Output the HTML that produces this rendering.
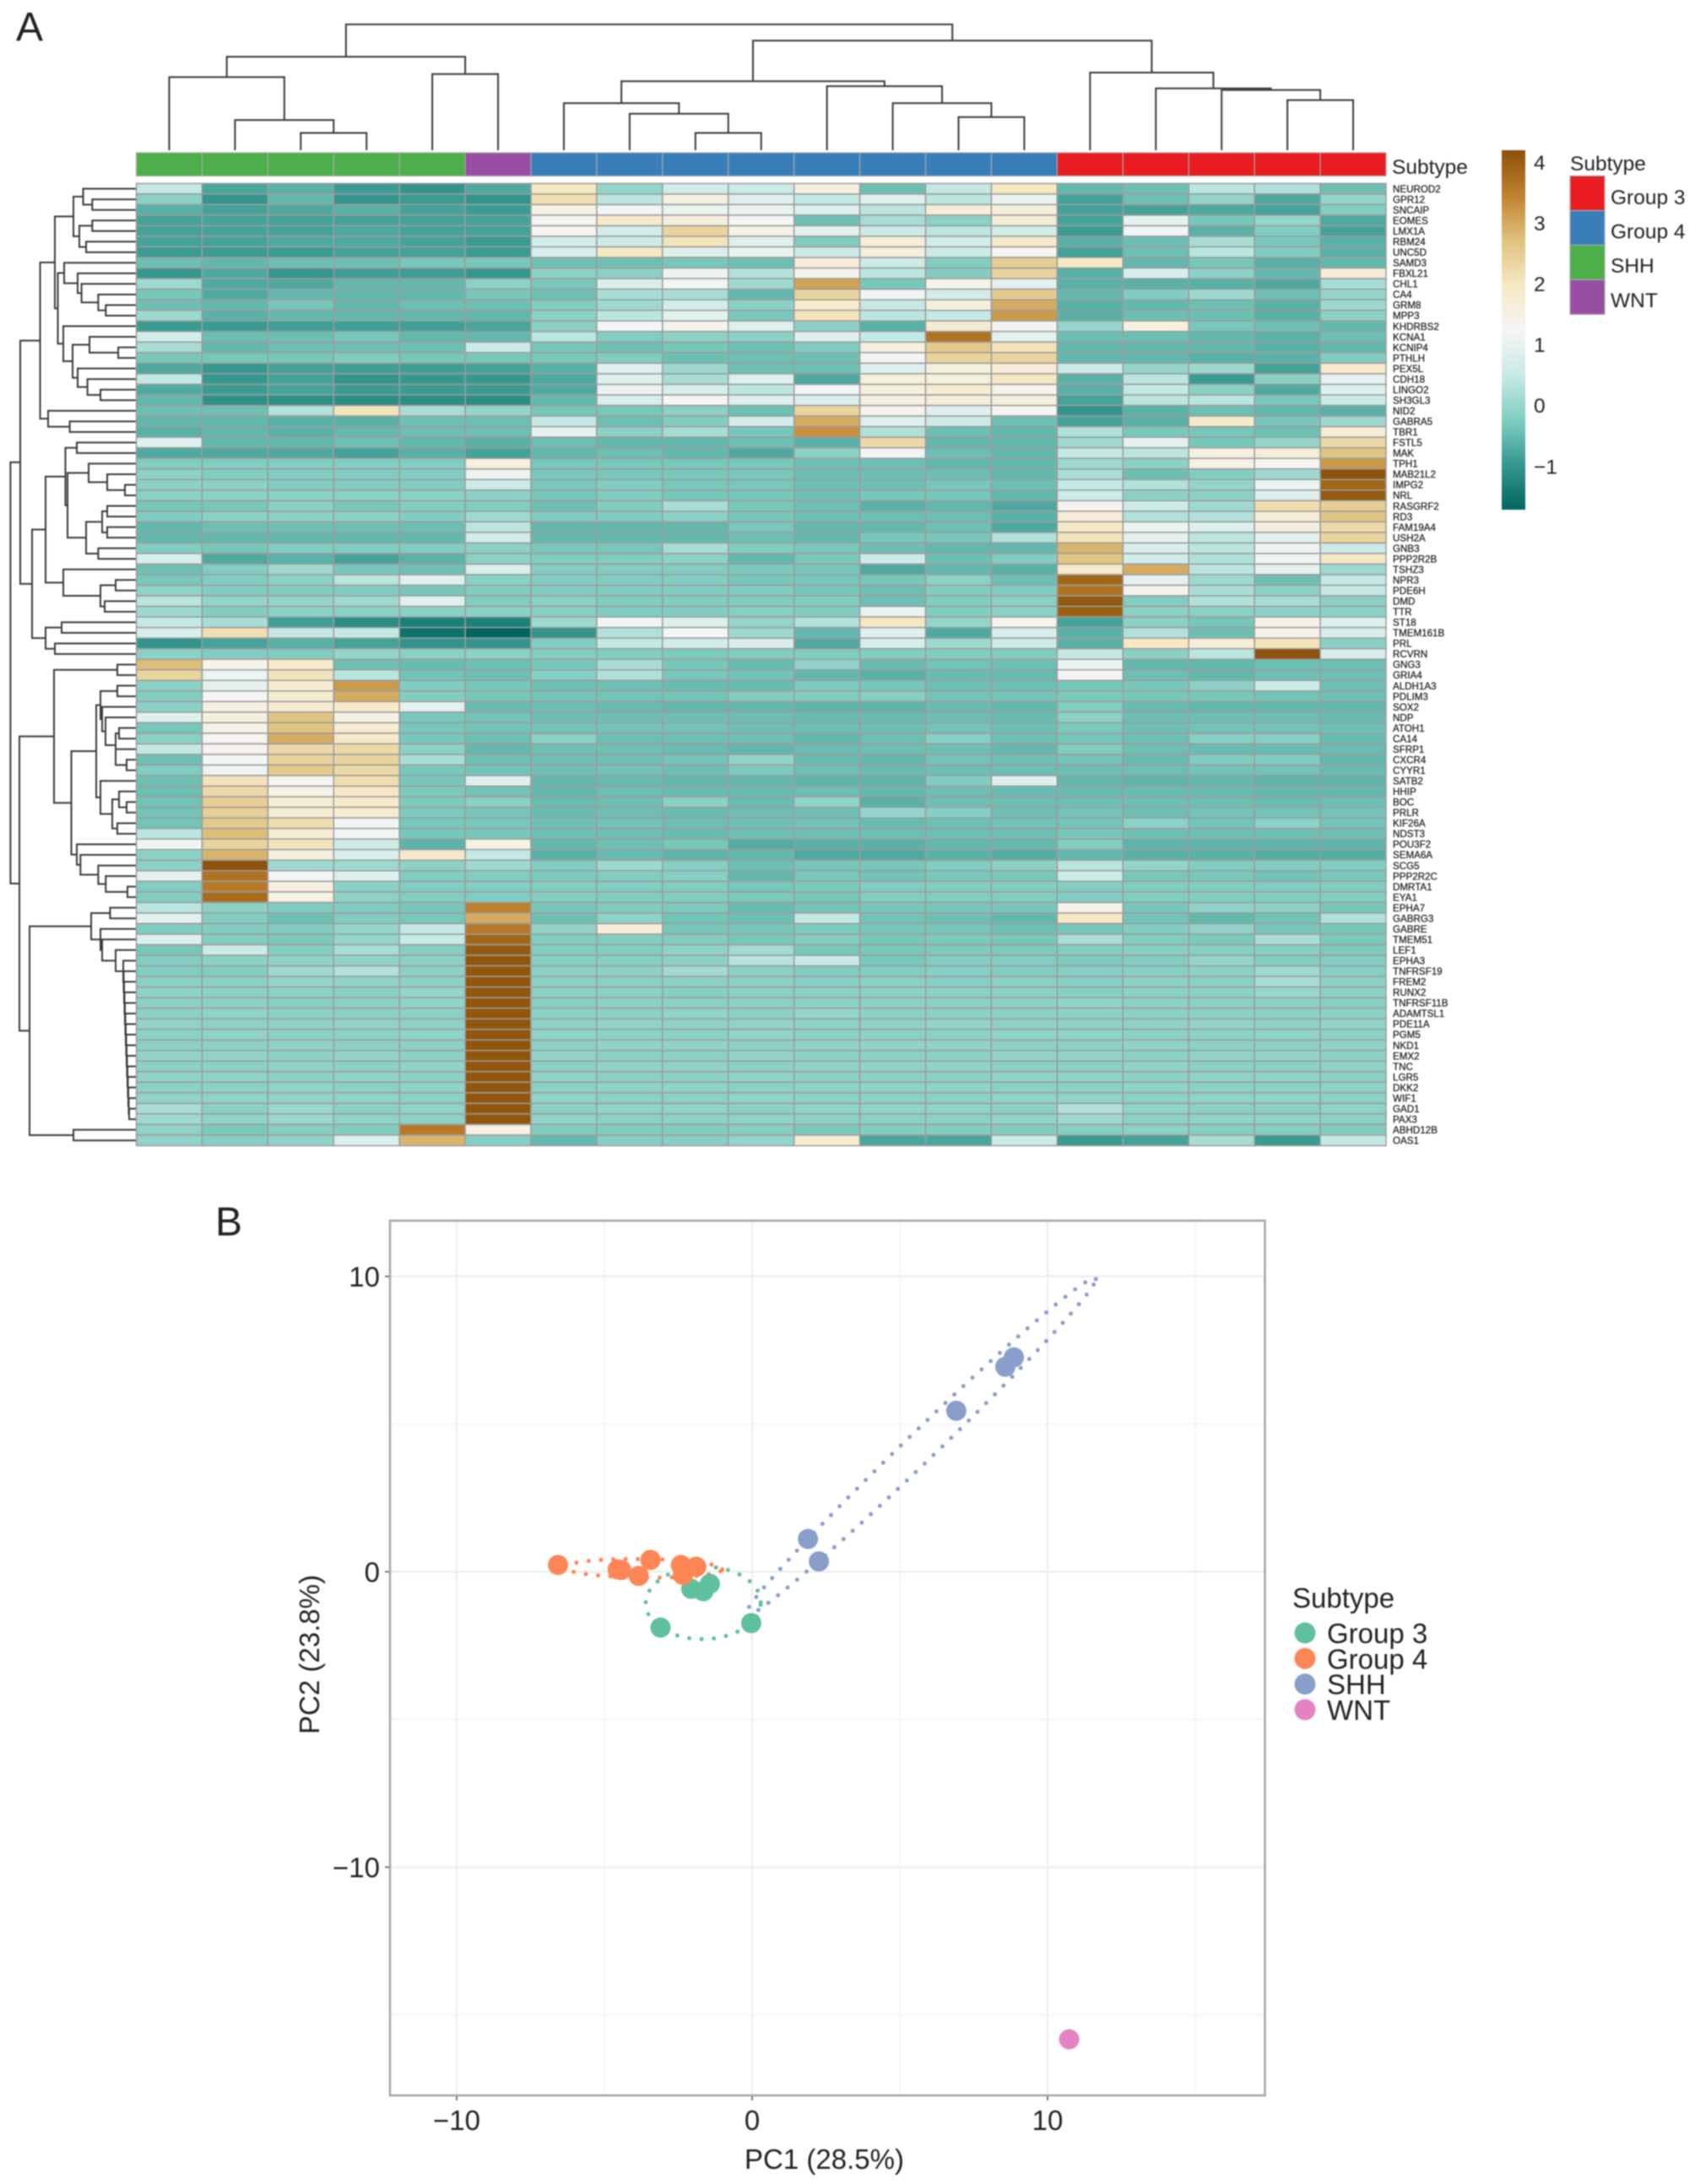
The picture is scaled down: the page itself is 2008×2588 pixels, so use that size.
<!DOCTYPE html>
<html lang="en">
<head>
<meta charset="utf-8">
<title>Medulloblastoma subtype heatmap and PCA</title>
<style>
html,body{margin:0;padding:0;background:#fff}
svg{display:block;filter:blur(.7px)}
text{font-family:"Liberation Sans",sans-serif;fill:#222}
</style>
</head>
<body>
<svg id="fig" xmlns="http://www.w3.org/2000/svg" width="2008" height="2588" viewBox="0 0 2008 2588">
  <rect width="2008" height="2588" fill="#fff"/>
  <text x="19" y="48" font-size="48">A</text>
  <text x="255" y="1464" font-size="48">B</text>
  <g id="colDend"></g>
  <g id="rowDend"></g>
  <g id="annot"></g>
  <text x="1649" y="206" font-size="24.5">Subtype</text>
  <g id="heat"></g>
  <g id="genes"></g>
  <g id="scale"></g>
  <g id="annotLegend"></g>
  <g id="pca"></g>
  <g id="pcaLegend"></g>
</svg>
<script>
const genes = ["NEUROD2","GPR12","SNCAIP","EOMES","LMX1A","RBM24","UNC5D","SAMD3","FBXL21","CHL1","CA4","GRM8","MPP3","KHDRBS2","KCNA1","KCNIP4","PTHLH","PEX5L","CDH18","LINGO2","SH3GL3","NID2","GABRA5","TBR1","FSTL5","MAK","TPH1","MAB21L2","IMPG2","NRL","RASGRF2","RD3","FAM19A4","USH2A","GNB3","PPP2R2B","TSHZ3","NPR3","PDE6H","DMD","TTR","ST18","TMEM161B","PRL","RCVRN","GNG3","GRIA4","ALDH1A3","PDLIM3","SOX2","NDP","ATOH1","CA14","SFRP1","CXCR4","CYYR1","SATB2","HHIP","BOC","PRLR","KIF26A","NDST3","POU3F2","SEMA6A","SCG5","PPP2R2C","DMRTA1","EYA1","EPHA7","GABRG3","GABRE","TMEM51","LEF1","EPHA3","TNFRSF19","FREM2","RUNX2","TNFRSF11B","ADAMTSL1","PDE11A","PGM5","NKD1","EMX2","TNC","LGR5","DKK2","WIF1","GAD1","PAX3","ABHD12B","OAS1"];
const sampleSubtypes = ["SHH","SHH","SHH","SHH","SHH","WNT","Group 4","Group 4","Group 4","Group 4","Group 4","Group 4","Group 4","Group 4","Group 3","Group 3","Group 3","Group 3","Group 3"];
const subtypeNames = ["Group 3","Group 4","SHH","WNT"];
const subtypeBarColors = {"Group 3":"#e91c22","Group 4":"#377eb8","SHH":"#4daf4a","WNT":"#984ea3"};
const subtypePointColors = {"Group 3":"#5fbf9f","Group 4":"#fc8655","SHH":"#8a9ecb","WNT":"#e583c2"};
const scaleStops = ["#01665e","#35978f","#80cdc1","#c7eae5","#f5f5f5","#f6e8c3","#dfc27d","#bf812d","#8c510a"];
const scaleMin = -1.69;
const scaleMax = 4.22;
const scaleTicks = [4,3,2,1,0,-1];
const expression = [
[.5,-.75,-.6,-.9,-1,-.7,2,0,.7,.6,1.6,-.4,.5,2,-.5,-.4,.4,.3,-.4],
[-.1,-1,-.5,-1,-.9,-1,2.2,.4,1.6,.9,.5,.9,.4,1.1,-.8,-.4,0,-.7,0],
[-.6,-.8,-.7,-.6,-.8,-.9,1.5,1.2,1.1,1.1,.9,.4,1.7,1.6,-.8,-.8,-.7,-.8,-.2],
[-.8,-.8,-.8,-.8,-.8,-.8,1.3,1.9,1.6,1.25,-.4,.2,-.1,1.7,-.8,1,-.3,0,-.7],
[-.8,-.8,-.8,-.7,-.8,-.8,1.4,.7,2.4,1.5,1,.6,.4,.7,-.9,1.2,-.6,-.2,-.8],
[-.8,-.8,-.7,-.7,-.8,-.9,.7,.6,2.1,.9,-.2,1.7,.7,1.9,-.6,-.4,.2,-.3,-.6],
[-.9,-.9,-.9,-.8,-.8,-.9,.8,2,.9,1.1,.6,1.6,.6,1.3,-.8,-.4,.4,-.2,-.6],
[-.4,-.5,-.4,-.4,-.3,-.3,-.4,-.4,-.3,-.4,1.7,.6,-.2,2.5,2,-.5,-.3,-.6,-.5],
[-.95,-.7,-.95,-.85,-.85,-.95,-.1,-.1,1.1,.3,1.4,.4,-.2,2.4,-.6,.8,-.1,-.5,1.7],
[.1,-.7,-.7,-.5,-.5,-.1,-.3,.8,1.2,.1,3.1,-.3,1.4,1,-.6,-.6,-.6,-.7,.2],
[-.3,-.7,-.5,-.5,-.5,-.3,-.4,.2,.2,-.5,2.4,1.2,.7,2.6,-.5,-.2,.1,-.4,0],
[-.4,-.5,-.3,-.5,-.4,-.4,-.2,.1,.7,-.1,1.9,.5,1.6,3,-.6,-.5,-.4,-.6,.1],
[.1,-.6,-.5,-.5,-.5,-.5,-.1,.4,1,-.3,2.1,.4,.5,3.2,-.6,-.4,-.4,-.6,-.1],
[-.9,-.9,-.85,-.85,-.85,-.75,-.1,1.3,1.4,.9,-.1,-.6,1.8,1.2,0,1.6,-.3,-.4,-.5],
[.7,-.4,-.4,-.3,-.5,-.5,.4,-.2,-.1,-.1,.9,.5,3.7,1,-.4,-.4,-.5,-.6,-.4],
[.2,-.5,-.4,-.4,-.4,.6,-.3,-.4,-.3,-.4,-.2,1.6,2.6,2.1,-.5,-.5,-.5,-.6,-.5],
[-.3,-.3,-.3,-.2,-.3,-.3,-.3,-.2,-.4,-.4,-.4,1.3,2.4,2.4,-.5,-.5,-.6,-.6,-.2],
[-.7,-.95,-.8,-.85,-.85,-.8,-.6,.9,.1,-.4,-.4,.9,1.6,1.7,.6,0,.1,-.8,1.9],
[.5,-.95,-.8,-1,-.95,-.95,-.7,.9,.2,.9,-.7,1.6,1.6,2,-.6,.4,-.9,-.1,1],
[-.7,-.9,-.8,-.9,-.9,-.9,-.7,1.1,.8,.4,1.2,1.6,1.8,1.4,-.6,.5,-.1,-.7,.9],
[-.5,-1.05,-1.05,-1.1,-1.1,-1.1,-.5,.8,1.3,.9,.8,1.6,1.7,1.6,-.8,.4,.4,-.3,.6],
[-.4,-.4,.3,2.1,.2,0,-.3,-.3,-.1,-.4,2.4,1.4,.9,1.3,-1,-.6,-.4,-.5,-.6],
[-.5,-.5,-.6,-.6,-.4,-.4,.5,-.4,-.2,.7,3,.9,.6,-.4,-.8,-.6,1.9,-.3,.1],
[-.6,-.5,-.6,-.5,-.4,-.4,1,-.1,.2,-.3,3.3,.3,-.4,-.5,.3,-.3,-.3,-.4,1.7],
[.9,-.5,-.5,-.4,-.5,-.6,-.4,-.5,-.5,-.4,-.6,2.3,-.5,-.5,.1,1,-.3,0,2.3],
[-.7,-.7,-.7,-.8,-.6,-.8,-.5,-.4,-.5,-.7,-.1,1.2,-.4,-.5,.5,.4,1.6,1.7,2.7],
[-.2,-.2,-.2,-.2,-.2,1.6,-.3,-.3,-.3,-.3,-.4,-.4,-.5,-.5,.1,-.1,1.5,1.3,3.2],
[-.1,-.2,-.2,-.2,-.2,1.1,-.3,-.3,-.3,-.3,-.4,-.4,-.4,-.5,.2,-.4,-.2,.1,4.2],
[-.1,-.1,-.2,-.2,-.2,.6,-.3,-.2,-.3,-.3,-.4,-.4,-.3,-.4,.5,.3,0,1.1,3.9],
[-.1,-.1,-.1,-.1,-.1,-.1,-.3,-.2,-.3,-.3,-.4,-.3,-.3,-.5,.6,-.1,-.1,.9,4.1],
[-.3,-.3,-.1,-.3,-.2,-.2,-.4,-.2,.2,-.3,-.4,-.6,-.5,-.7,1.4,.6,.1,2.2,2.5],
[-.2,-.1,-.1,-.1,-.2,.1,-.2,-.2,-.1,-.3,-.4,-.4,-.4,-.6,1.7,.3,.3,1.7,2.7],
[-.5,-.4,-.4,-.4,-.4,.4,-.5,-.5,-.5,-.3,-.5,-.5,-.4,-.7,1.9,1.1,.9,1.6,2.3],
[-.5,-.5,-.5,-.5,-.5,.7,-.5,-.5,-.5,-.4,-.5,-.3,-.3,.3,2.1,1,.4,1,2.4],
[-.2,-.3,-.2,-.2,-.2,-.1,-.3,-.3,.2,-.2,-.3,-.4,-.5,-.5,2.9,.8,.4,1.2,.6],
[.8,-.7,-.6,-.8,-.6,-.1,-.2,-.2,-.1,-.5,-.3,.6,-.4,-.2,2.7,.7,.3,1.2,2],
[-.4,-.2,.1,-.3,-.4,.8,-.2,-.2,-.2,-.25,-.3,-.7,-.5,-.6,1.9,3,.4,1,.1],
[-.3,-.2,-.1,.4,.9,-.1,-.2,-.2,-.2,-.3,-.3,-.3,-.1,-.4,3.9,1,.1,-.4,.5],
[-.05,-.2,-.2,-.2,-.3,-.2,-.2,-.2,-.2,-.2,-.3,-.4,-.2,-.2,3.7,1.4,.2,-.1,.5],
[.4,0,0,.1,.95,-.2,-.1,-.2,-.2,-.2,-.2,-.4,-.2,-.1,4.1,-.2,.3,.2,-.1],
[.1,-.2,-.1,-.1,-.1,-.1,-.15,-.2,-.2,-.15,-.2,1.1,-.2,-.1,4,-.1,-.1,-.1,-.1],
[.5,.2,-.85,-1.1,-1.3,-1.3,.1,1.2,.9,0,.3,2,0,1.4,-.8,-.1,-.3,1.5,.9],
[.8,2.2,.5,.5,-1.5,-1.7,-1,.3,1.25,.1,-.5,.9,-.7,.8,-.6,.3,-.4,1.4,.8],
[-1,-.8,-.6,-.8,-1,-1,-.2,.5,.7,.8,-.7,.8,.1,.6,-.6,2,1.7,2.1,-.1],
[-.1,-.2,-.2,0,-.1,-.1,-.2,-.2,-.25,-.2,-.2,-.2,-.2,-.2,.5,-.1,.4,4.2,.8],
[2.8,1.4,1.9,-.4,-.45,-.4,-.3,.2,-.3,-.45,-.05,-.45,-.35,-.4,1.1,-.5,-.5,-.4,-.4],
[2.4,1.1,2.1,.4,-.35,-.4,-.15,.3,-.3,-.35,-.5,-.6,-.45,-.45,1.3,-.4,-.5,-.4,-.4],
[-.1,1,1.8,3.2,-.2,-.3,-.4,-.4,-.45,-.45,-.25,-.3,-.4,-.4,-.3,-.3,-.1,.6,-.4],
[-.2,1.3,1.8,3,-.2,-.3,-.35,-.35,-.35,-.2,-.2,-.15,-.35,-.35,-.25,-.3,-.3,-.35,-.4],
[-.1,1.55,1.8,1.9,1,-.45,-.4,-.45,-.5,-.5,-.55,-.55,-.45,-.5,-.2,-.45,-.5,-.5,-.5],
[.9,1.6,2.7,1.5,-.3,-.35,-.4,-.4,-.4,-.4,-.45,-.45,-.4,-.45,-.1,-.4,-.4,-.4,-.45],
[-.3,1.5,2.7,1.8,-.3,-.35,-.35,-.35,-.35,-.4,-.4,-.4,-.35,-.4,-.25,-.4,-.35,-.35,-.4],
[-.1,1.3,3,1.9,-.3,-.4,-.1,-.4,-.4,-.4,-.5,-.4,-.15,-.4,-.3,-.4,-.15,-.15,-.45],
[.5,1.4,2.3,2.3,-.1,-.5,-.4,-.4,-.45,-.5,-.45,-.4,-.4,-.5,-.2,-.4,-.45,-.45,-.45],
[-.4,1.25,2.4,2.4,.2,-.4,-.4,-.4,-.35,-.05,-.45,-.5,-.35,-.4,-.35,-.45,-.2,-.2,-.5],
[-.2,1.1,2.6,2.3,-.3,-.35,-.4,-.35,-.4,-.25,-.4,-.45,-.4,-.4,-.4,-.4,-.35,-.35,-.45],
[-.4,2.1,1.3,2.2,-.3,.9,-.5,-.45,-.5,-.5,-.55,-.55,-.2,.9,-.5,-.55,-.5,-.55,-.55],
[-.4,2.3,1.45,2,-.25,-.35,-.5,-.4,-.45,-.45,-.4,-.5,-.4,-.45,-.45,-.45,-.45,-.5,-.5],
[-.35,2.5,1.8,1.9,-.25,-.1,-.45,-.4,-.1,-.45,-.05,-.6,-.4,-.4,-.4,-.4,-.4,-.45,-.4],
[-.35,2.5,1.8,1.8,-.25,-.3,-.45,-.4,-.45,-.4,-.4,0,-.15,-.4,-.35,-.4,-.35,-.35,-.35],
[-.35,2.6,2.2,1.2,-.3,-.3,-.4,-.35,-.4,-.4,-.35,-.45,-.4,-.35,-.35,-.1,-.35,-.1,-.35],
[.4,2.8,1.8,1.2,-.3,-.3,-.4,-.4,-.45,-.4,-.4,-.4,-.4,-.4,-.3,-.4,-.4,-.4,-.4],
[1.2,2.4,2.1,.6,-.55,1.5,-.5,-.4,-.3,-.65,-.6,-.6,-.5,-.5,-.2,-.55,-.55,-.55,-.55],
[-.1,2.9,1.6,.8,1.9,.5,-.6,-.45,-.55,-.5,-.7,-.7,-.6,-.65,-.5,-.6,-.6,-.65,-.65],
[-.1,4.2,.1,.1,-.1,.1,-.2,.1,-.15,-.4,-.3,-.3,-.2,-.1,.4,0,-.2,-.2,-.2],
[1,3.7,1.2,.9,-.2,-.2,-.25,-.2,-.15,-.5,-.3,-.35,-.3,-.3,.6,-.3,-.3,-.35,-.3],
[-.2,3.6,1.55,-.1,-.2,-.2,-.2,-.2,-.2,-.3,-.25,-.2,-.2,-.2,-.2,-.2,-.2,-.2,-.2],
[-.2,3.8,1.5,-.1,-.2,-.2,-.2,-.2,-.2,-.25,-.3,-.2,-.2,-.2,-.2,-.2,-.2,-.2,-.2],
[.4,-.1,-.2,-.2,-.3,3.5,-.3,-.2,-.25,-.45,-.35,-.3,-.3,-.3,1.4,-.3,-.05,-.1,-.3],
[1,-.2,-.4,-.2,-.3,3,-.4,-.05,-.35,-.4,.5,-.35,-.4,-.5,2,-.35,-.5,-.35,.3],
[-.2,-.2,-.2,0,.5,3.6,-.05,1.7,-.3,-.3,-.25,-.3,-.3,-.4,-.3,-.2,-.05,-.3,-.3],
[.9,-.2,-.25,0,.55,3.9,-.2,-.2,-.2,-.3,-.2,-.3,-.25,-.3,.2,-.2,-.25,.2,-.25],
[-.3,.6,-.2,.2,-.15,4.1,-.2,-.2,-.05,.15,-.3,-.3,-.25,-.25,-.2,-.15,-.15,-.15,-.25],
[-.2,-.1,-.05,-.05,-.1,4.15,-.15,-.15,-.1,.35,.55,-.3,-.2,-.2,-.25,-.2,0,-.2,-.2],
[-.2,-.2,.1,.3,-.1,4.15,-.1,-.1,.15,-.1,-.2,-.2,-.15,-.2,-.15,-.15,-.1,.1,-.15],
[-.1,-.1,0,-.05,-.1,4.15,-.1,-.1,-.1,-.1,-.15,-.1,-.15,-.1,-.15,-.1,-.1,.2,-.1],
[-.05,-.1,-.1,-.1,0,4.15,-.1,-.1,-.15,-.1,-.1,-.1,-.1,-.1,-.15,-.1,-.1,.05,-.1],
[-.1,-.1,-.15,-.1,-.05,4.15,-.15,-.1,-.1,-.1,-.1,-.1,-.1,-.1,-.05,-.1,-.1,-.1,-.15],
[-.1,-.05,-.1,-.1,-.1,4.15,-.1,-.1,-.05,-.1,0,-.1,-.1,-.1,-.1,-.1,-.1,-.1,-.1],
[-.05,-.1,-.1,-.05,-.1,4.15,-.1,-.05,-.1,-.05,-.1,-.1,-.05,-.1,-.1,-.1,-.05,-.1,-.05],
[-.1,-.05,-.1,-.1,-.05,4.15,-.05,-.1,-.1,-.05,-.1,-.1,-.1,-.05,-.05,-.1,-.1,-.05,-.1],
[-.1,-.1,-.05,-.1,-.1,4.15,-.1,-.05,-.05,-.1,-.05,-.05,-.05,-.1,-.1,-.05,-.1,-.1,-.05],
[-.05,-.05,-.1,-.05,-.1,4.15,-.05,-.1,-.1,-.05,-.1,-.1,-.1,-.05,-.05,-.1,-.05,-.05,-.1],
[-.1,-.1,-.05,-.1,-.05,4.15,-.1,-.05,-.05,-.1,-.05,-.05,-.05,-.1,-.1,-.05,-.1,-.1,-.05],
[-.05,-.05,-.1,-.05,-.1,4.15,-.05,-.1,-.1,-.05,-.1,-.1,-.1,-.05,-.05,-.1,-.05,-.05,-.1],
[-.1,-.1,-.05,-.1,-.05,4.15,-.1,-.05,-.05,-.1,-.05,-.05,-.05,-.1,-.1,-.05,-.1,-.1,-.05],
[-.05,-.05,-.05,-.05,-.1,4.15,-.05,-.1,-.1,-.05,-.1,-.1,-.1,-.05,-.05,-.1,-.05,-.05,-.1],
[.2,-.1,.05,-.1,-.05,4.15,-.1,-.05,-.05,-.1,-.05,-.05,-.05,-.1,.3,-.05,-.1,-.1,-.05],
[.1,-.05,.05,-.05,-.1,4.15,-.05,-.1,-.1,-.05,-.1,-.1,-.1,-.05,.1,-.1,-.05,-.05,-.1],
[-.05,-.25,-.15,-.2,3.6,1.5,-.2,-.2,-.2,-.15,-.25,-.2,-.2,-.2,-.15,-.1,-.15,-.15,-.2],
[-.05,-.15,-.05,.9,2.9,-.15,-.5,-.15,-.15,0,1.8,-.75,-.75,.6,-.9,-.8,.2,-.9,.5]
];
// Dendrograms: [mergeHeight, childA, childB]; integer leaves are 1-based column or row numbers.
const columnTree = [149.1,
  [110.7,[86.6,1,[35.7,2,[20.5,3,4]]],[90.2,5,6]],
  [129.9,
    [81.7,[55.8,7,[43.3,8,[20.5,9,10]]],[75.9,11,[55.8,12,[39.3,13,14]]]],
    [92,15,[73.2,16,[71.4,17,[59.4,18,19]]]]]];
const rowTreeTopSeven = [74,[62.5,1,[51.7,2,3]],[67,[51.7,4,5],[59,6,7]]];
const rowTreeEightToTwentyOne = [92.5,[85,8,[69,9,[64.4,10,[44.6,11,[35.7,12,13]]]]],[86,14,[75,[55,15,[21,16,17]],[69,18,[57.4,19,[42,20,21]]]]]];
const rowTreeUpper = [113.5,[96,rowTreeTopSeven,rowTreeEightToTwentyOne],[104,22,[78.4,23,24]]];
const rowTreeMiddle = [123,[107,[83.5,[70,25,26],[81,[56,27,[34,28,[13,29,30]]],[59,[40,[34,31,32],[34,33,34]],[44.6,35,36]]]],[86,37,[42,[24,38,39],[37,40,41]]]],[107,[88,42,43],[96,44,45]]];
const rowTreeShh = [97,[22,46,47],[76.5,[47,[42,[22,48,49],[40,50,[36,51,[24,[20,52,53],[24,54,[11,55,56]]]]]],[42,57,[28,[20,58,[11,59,60]],[22,61,62]]]],[70,63,[65.7,64,[44.6,65,[35.7,66,[10,67,68]]]]]]];
const rowTreeLadder = [15,74,[14.5,75,[14,76,[13.5,77,[13,78,[12.5,79,[12,80,[11.5,81,[11,82,[10.5,83,[10,84,[9.5,85,[9,86,[8.5,87,[8,88,89]]]]]]]]]]]]]]];
const rowTreeWnt = [126,[53,[30.6,69,70],[42,71,[40,72,[24,73,rowTreeLadder]]]],[74,90,91]];
const rowTree = [148.6,[137,rowTreeUpper,rowTreeMiddle],[138,rowTreeShh,rowTreeWnt]];
// PCA sample scores
const pcaGroup3X = [-0.03,-3.1,-2.06,-1.65,-1.43];
const pcaGroup3Y = [-1.74,-1.89,-0.58,-0.66,-0.41];
const pcaGroup4X = [-6.57,-4.43,-4.55,-3.84,-3.44,-2.41,-2.34,-1.89];
const pcaGroup4Y = [0.23,0.06,0.08,-0.14,0.4,0.23,-0.11,0.17];
const pcaShhX = [1.89,2.26,6.91,8.57,8.86];
const pcaShhY = [1.11,0.35,5.45,6.94,7.26];
const pcaWntX = [10.73];
const pcaWntY = [-15.83];
const pcaMajorTicks = [-10,0,10];
const pcaMinorTicks = [-15,-5,5,15];

const NS = "http://www.w3.org/2000/svg";
function mk(parent, tag, attrs, txt){
  const el = document.createElementNS(NS, tag);
  for (const k in attrs) el.setAttribute(k, attrs[k]);
  if (txt !== undefined) el.textContent = txt;
  parent.appendChild(el);
  return el;
}
const $ = id => document.getElementById(id);

/* ---------- heatmap axes ---------- */
const HX0 = 161.5, HX1 = 1642, HY0 = 217.4, HY1 = 1357.6;
const colW = (HX1 - HX0) / sampleSubtypes.length;
const rowH = (HY1 - HY0) / genes.length;
const colX = i => HX0 + i * colW;
const rowY = i => HY0 + i * rowH;
function heatColor(v){
  const t = Math.max(0, Math.min(1, (v - scaleMin) / (scaleMax - scaleMin))) * (scaleStops.length - 1);
  const i = Math.min(scaleStops.length - 2, Math.floor(t)), f = t - i;
  const rgb = s => [1,3,5].map(p => parseInt(s.substr(p,2),16));
  const a = rgb(scaleStops[i]), b = rgb(scaleStops[i+1]);
  return "rgb(" + a.map((c,k) => Math.round(c + (b[k]-c)*f)).join(",") + ")";
}
expression.forEach((row, r) => {
  row.forEach((v, c) => {
    const cell = mk($("heat"), "rect", {x:colX(c), y:rowY(r), width:colW, height:rowH, fill:heatColor(v), stroke:"#9c9c9c", "stroke-width":1.5});
    
    
  });
});
genes.forEach((g, r) => {
  const t = mk($("genes"), "text", {x:1650, y:rowY(r)+rowH/2+4.2, "font-size":11.6, fill:"#222", stroke:"#222", "stroke-width":.25}, g);
  
  
});
sampleSubtypes.forEach((s, c) => {
  const b = mk($("annot"), "rect", {x:colX(c), y:181, width:colW, height:27.5, fill:subtypeBarColors[s], stroke:"#a8a8a8", "stroke-width":1.2});
  
  
});

/* ---------- dendrograms ---------- */
function drawTree(node, group, leafPos, pt){
  if (typeof node === "number") return {pos:leafPos(node-1), h:0};
  const a = drawTree(node[1], group, leafPos, pt);
  const b = drawTree(node[2], group, leafPos, pt);
  const h = node[0];
  const pts = [pt(a.pos,a.h), pt(a.pos,h), pt(b.pos,h), pt(b.pos,b.h)];
  const p = mk(group, "polyline", {points:pts.map(q=>q.join(",")).join(" "), fill:"none", stroke:"#3a3a3a", "stroke-width":2});
  
  
  return {pos:(a.pos+b.pos)/2, h};
}
drawTree(columnTree, $("colDend"), i => colX(i)+colW/2, (pos,h) => [pos, 178-h]);
drawTree(rowTree, $("rowDend"), i => rowY(i)+rowH/2, (pos,h) => [161-h, pos]);

/* ---------- colour scale legend ---------- */
const CY0 = 178, CY1 = 604;
const scaleY = v => CY0 + (scaleMax - v) / (scaleMax - scaleMin) * (CY1 - CY0);
const defs = mk($("scale"), "defs", {});
const grad = mk(defs, "linearGradient", {id:"scaleGrad", x1:0, y1:1, x2:0, y2:0});
scaleStops.forEach((c, i) => mk(grad, "stop", {offset:i/(scaleStops.length-1), "stop-color":c}));
const sb = mk($("scale"), "rect", {x:1779, y:CY0, width:28, height:CY1-CY0, fill:"url(#scaleGrad)"});


scaleTicks.forEach(v => {
  const t = mk($("scale"), "text", {x:1817, y:scaleY(v)+7, "font-size":24.5}, String(v).replace("-", "\u2212"));
  
  
});

/* ---------- annotation legend ---------- */
const lt = mk($("annotLegend"), "text", {x:1860, y:202, "font-size":24.5}, "Subtype");


subtypeNames.forEach((n, i) => {
  const r = mk($("annotLegend"), "rect", {x:1860, y:208.5+i*41, width:41, height:41, fill:subtypeBarColors[n], stroke:"#a8a8a8", "stroke-width":1.2});
  
  
  const t = mk($("annotLegend"), "text", {x:1908, y:242+i*40.6, "font-size":24.5}, n);
  
  
});

/* ---------- PCA ---------- */
const PX0 = 462, PX1 = 1498.5, PY0 = 1446.5, PY1 = 2483;
const xScale = v => 891 + v * 35;
const yScale = v => 1862.5 - v * 35;
const pca = $("pca");
pcaMinorTicks.forEach(v => {
  if (xScale(v) > PX0 && xScale(v) < PX1) {
    const gx = mk(pca, "line", {x1:xScale(v), x2:xScale(v), y1:PY0, y2:PY1, stroke:"#f3f3f3", "stroke-width":1.6});
    
    
  }
  if (yScale(v) > PY0 && yScale(v) < PY1) {
    const gy = mk(pca, "line", {y1:yScale(v), y2:yScale(v), x1:PX0, x2:PX1, stroke:"#f3f3f3", "stroke-width":1.6});
    
    
  }
});
pcaMajorTicks.forEach(v => {
  const gx = mk(pca, "line", {x1:xScale(v), x2:xScale(v), y1:PY0, y2:PY1, stroke:"#ededed", "stroke-width":2.2});
  
  
  const gy = mk(pca, "line", {y1:yScale(v), y2:yScale(v), x1:PX0, x2:PX1, stroke:"#ededed", "stroke-width":2.2});
  
  
  const tx = mk(pca, "line", {x1:xScale(v), x2:xScale(v), y1:PY1, y2:PY1+6, stroke:"#777", "stroke-width":2});
  
  
  const ty = mk(pca, "line", {y1:yScale(v), y2:yScale(v), x1:PX0-6, x2:PX0, stroke:"#777", "stroke-width":2});
  
  
  const lx = mk(pca, "text", {x:xScale(v), y:2524, "font-size":33, "text-anchor":"middle"}, String(v).replace("-", "\u2212"));
  
  
  const ly = mk(pca, "text", {x:450, y:yScale(v)+12, "font-size":33, "text-anchor":"end"}, String(v).replace("-", "\u2212"));
  
  
});
const border = mk(pca, "rect", {x:PX0, y:PY0, width:PX1-PX0, height:PY1-PY0, fill:"none", stroke:"#a8a8a8", "stroke-width":2.6});


const xTitle = mk(pca, "text", {x:976.5, y:2570, "font-size":33, "text-anchor":"middle"}, "PC1 (28.5%)");


const yTitle = mk(pca, "text", {x:0, y:0, "font-size":33, "text-anchor":"middle", transform:"translate(378 1960.5) rotate(-90)"}, "PC2 (23.8%)");



// Ellipse computed from the covariance of each group's scores.
const ELLIPSE_SCALE = 1.75;
function ellipsePoints(xs, ys){
  const n = xs.length;
  const mx = xs.reduce((a,b)=>a+b,0)/n, my = ys.reduce((a,b)=>a+b,0)/n;
  let sxx=0, syy=0, sxy=0;
  xs.forEach((x,i)=>{ sxx+=(x-mx)*(x-mx); syy+=(ys[i]-my)*(ys[i]-my); sxy+=(x-mx)*(ys[i]-my); });
  sxx/=n-1; syy/=n-1; sxy/=n-1;
  const l11 = Math.sqrt(sxx), l21 = sxy/l11, l22 = Math.sqrt(Math.max(syy-l21*l21,0));
  const out = [];
  for (let k=0;k<=240;k++){
    const a = k/240*2*Math.PI, u = Math.cos(a)*ELLIPSE_SCALE, w = Math.sin(a)*ELLIPSE_SCALE;
    out.push([xScale(mx+l11*u), yScale(my+l21*u+l22*w)]);
  }
  return out;
}
const pointSets = [
  {name:"Group 3", xs:pcaGroup3X, ys:pcaGroup3Y},
  {name:"Group 4", xs:pcaGroup4X, ys:pcaGroup4Y},
  {name:"SHH", xs:pcaShhX, ys:pcaShhY},
  {name:"WNT", xs:pcaWntX, ys:pcaWntY}
];
pointSets.forEach(s => {
  if (s.xs.length < 3) return;
  const e = mk(pca, "polyline", {points:ellipsePoints(s.xs,s.ys).map(q=>q.map(v=>v.toFixed(1)).join(",")).join(" "), fill:"none", stroke:subtypePointColors[s.name], "stroke-width":5, "stroke-linecap":"round", "stroke-dasharray":"0 14.6"});
  
  
});
pointSets.forEach(s => {
  s.xs.forEach((x,i) => {
    const c = mk(pca, "circle", {cx:xScale(x), cy:yScale(s.ys[i]), r:12, fill:subtypePointColors[s.name]});
    
    
  });
});

/* ---------- PCA legend ---------- */
const pl = $("pcaLegend");
const plt = mk(pl, "text", {x:1531, y:1905, "font-size":33}, "Subtype");


subtypeNames.forEach((n, i) => {
  const cy = 1935 + i*30.3;
  const d = mk(pl, "circle", {cx:1546, cy:cy, r:12.5, fill:subtypePointColors[n]});
  
  
  const t = mk(pl, "text", {x:1572, y:cy+12, "font-size":33}, n);
  
  
});
</script>
</body>
</html>
